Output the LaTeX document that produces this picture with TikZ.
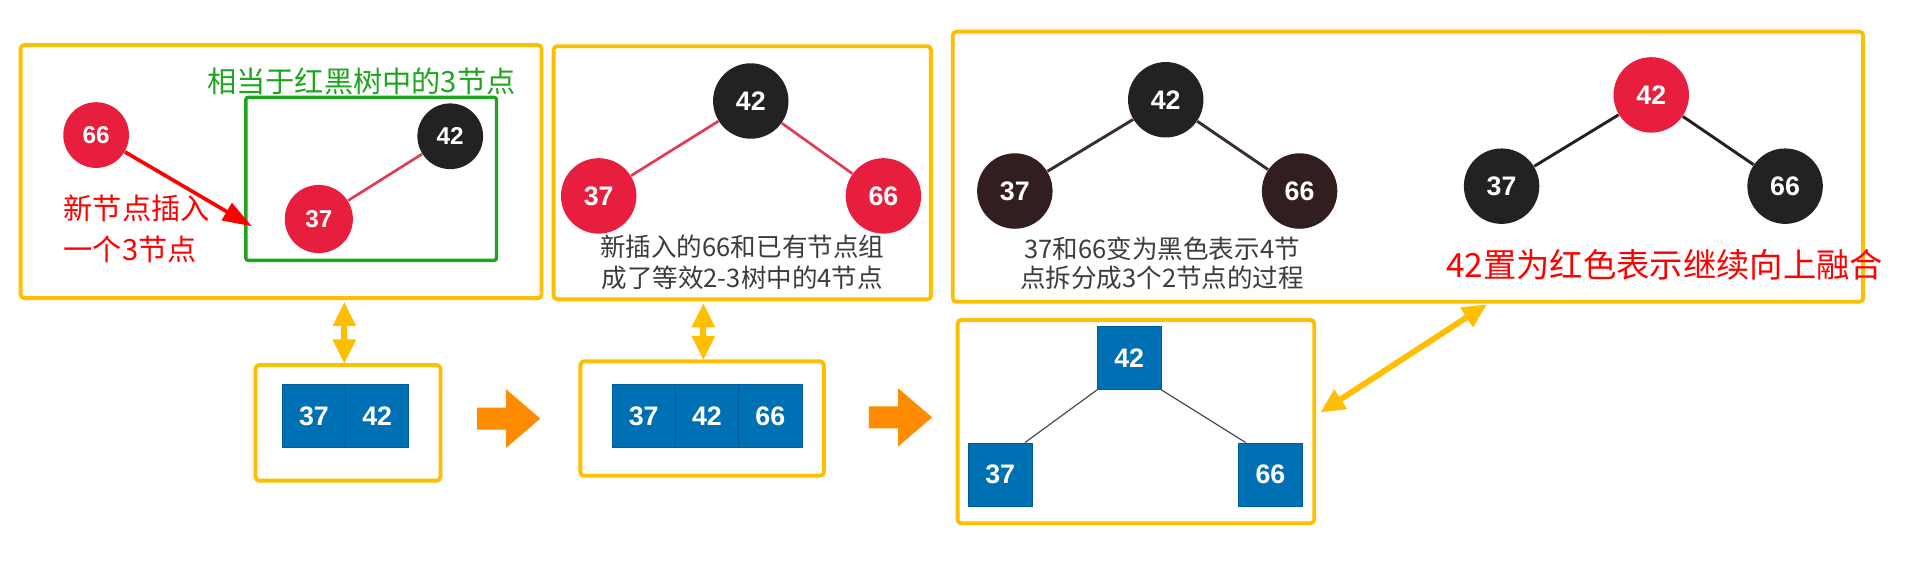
\documentclass[tikz,border=0pt]{standalone}
\usepackage{fontspec}
\setmainfont{Liberation Sans}
\newfontfamily\cjk{Noto Sans CJK SC}
\usetikzlibrary{arrows.meta}
\definecolor{yboxc}{RGB}{255,190,0}
\definecolor{rbred}{RGB}{232,30,62}
\definecolor{bkc}{RGB}{34,34,34}
\definecolor{brc}{RGB}{50,30,30}
\definecolor{blu}{RGB}{0,112,180}
\definecolor{bluedge}{RGB}{0,95,155}
\definecolor{redline}{RGB}{225,60,85}
\definecolor{darkline}{RGB}{60,45,45}
\definecolor{greenc}{RGB}{30,165,30}
\definecolor{graytxt}{RGB}{60,60,60}
\definecolor{orangec}{RGB}{255,140,0}
\begin{document}
\begin{tikzpicture}[x=0.5pt,y=-0.5pt,
  ybox/.style={draw=yboxc, line width=1.6pt, rounded corners=1.5pt, inner sep=0},
  gbox/.style={draw=greenc, line width=1.4pt, rounded corners=1pt, inner sep=0},
  rb/.style={circle, fill=rbred, text=white, font=\bfseries\fontsize{11}{11}\selectfont, minimum size=31pt, inner sep=0},
  rbs/.style={rb, minimum size=27pt, font=\bfseries\fontsize{10}{10}\selectfont},
  bk/.style={rb, fill=bkc},
  bks/.style={rbs, fill=bkc},
  br/.style={rb, fill=brc},
  sq/.style={rectangle, fill=blu, draw=bluedge, line width=0.3pt, minimum size=26pt, inner sep=0, text=white, font=\bfseries\fontsize{11}{11}\selectfont},
  redge/.style={draw=redline, line width=1.1pt},
  dedge/.style={draw=darkline, line width=1.2pt},
  gedge/.style={draw=black!70, line width=0.5pt},
  dbl/.style={draw=yboxc, line width=2.4pt, {Triangle[length=10pt,width=9pt]}-{Triangle[length=10pt,width=9pt]}},
  note/.style={inner sep=0, font=\cjk\fontsize{10.5}{12.5}\selectfont, text=graytxt, align=center}
]
\useasboundingbox (0,0) rectangle (1568,469);

% boxes
\node[ybox, minimum width=214pt, minimum height=104pt] (B1) at (231,141) {};
\node[ybox, minimum width=155pt, minimum height=104pt] (B2) at (610,142) {};
\node[ybox, minimum width=374pt, minimum height=111pt] (B3) at (1157,137) {};
\node[ybox, minimum width=76pt, minimum height=47.5pt] (B4) at (286,347.5) {};
\node[ybox, minimum width=100pt, minimum height=47pt] (B5) at (577,344) {};
\node[ybox, minimum width=146.5pt, minimum height=83.5pt] (B6) at (933.5,346.5) {};
\node[gbox, minimum width=103pt, minimum height=67pt] (G) at (305,147) {};

% box 1
\node[anchor=west, inner sep=0, text=greenc, font=\cjk\fontsize{12}{12}\selectfont] (gt) at (170,67) {相当于红黑树中的3节点};
\node[rbs] (a66) at (79,111) {66};
\node[bks] (a42) at (370,112) {42};
\node[rbs, minimum size=28pt] (a37) at (262,180) {37};
\draw[redge] (a37) -- (a42);
\coordinate (rt) at (207,186);
\draw[draw=red, line width=1.5pt, -{Triangle[length=12pt,width=8pt]}] (a66) -- (rt);
\node[anchor=west, align=left, inner sep=0, text=red, font=\cjk\fontsize{12}{16.5}\selectfont] (rtxt) at (52,188) {新节点插入\\一个3节点};

% box 2
\node[bk] (b42) at (617,83) {42};
\node[rb] (b37) at (492,161) {37};
\node[rb] (b66) at (726,161) {66};
\draw[redge] (b42) -- (b37);
\draw[redge] (b42) -- (b66);
\node[note] (t2) at (610,215.5) {新插入的66和已有节点组\\成了等效2-3树中的4节点};

% box 3 left
\node[bk] (c42) at (958,82) {42};
\node[br] (c37) at (834,157) {37};
\node[br] (c66) at (1068,157) {66};
\draw[dedge] (c42) -- (c37);
\draw[dedge] (c42) -- (c66);
\node[note, font=\cjk\fontsize{10.5}{12}\selectfont] (t3) at (955,216.5) {37和66变为黑色表示4节\\点拆分成3个2节点的过程};

% box 3 right
\node[rb] (d42) at (1357,78) {42};
\node[bk] (d37) at (1234,153) {37};
\node[bk] (d66) at (1467,153) {66};
\draw[dedge, draw=bkc] (d42) -- (d37);
\draw[dedge, draw=bkc] (d42) -- (d66);
\node[anchor=west, inner sep=0, text=red, font=\cjk\fontsize{13.7}{13.7}\selectfont] (t4) at (1188,218) {42置为红色表示继续向上融合};

% bottom squares
\node[sq] (e37) at (258,342) {37};
\node[sq] (e42) at (310,342) {42};
\node[sq] (f37) at (529,342) {37};
\node[sq] (f42) at (581,342) {42};
\node[sq] (f66) at (633,342) {66};
\node[sq] (g42) at (928,294) {42};
\node[sq] (g37) at (822,390) {37};
\node[sq] (g66) at (1044,390) {66};
\draw[gedge] (g42.south west) -- ([xshift=-3pt]g37.north east);
\draw[gedge] (g42.south east) -- ([xshift=3pt]g66.north west);

% orange arrows
\fill[orangec] (392,335) -- (416,335) -- (416,320) -- (444,344) -- (416,368) -- (416,353) -- (392,353) -- cycle;
\fill[orangec] (714,334) -- (738,334) -- (738,319) -- (766,343) -- (738,367) -- (738,352) -- (714,352) -- cycle;

% yellow double arrows
\coordinate (p1) at (283,248);
\coordinate (p2) at (283,299);
\coordinate (q1) at (578,249);
\coordinate (q2) at (578,296);
\coordinate (r1) at (1085,339);
\coordinate (r2) at (1222,250);
\draw[dbl] (p1) -- (p2);
\draw[dbl] (q1) -- (q2);
\draw[dbl] (r1) -- (r2);
\end{tikzpicture}
\end{document}
